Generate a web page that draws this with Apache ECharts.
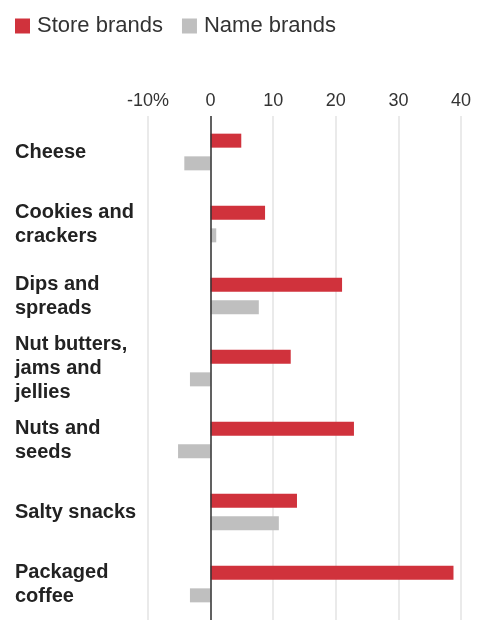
<!DOCTYPE html>
<html>
<head>
<meta charset="utf-8">
<script src="https://cdn.jsdelivr.net/npm/echarts@6/dist/echarts.min.js"></script>
<style>html,body{margin:0;padding:0;background:#fff;}#c{width:501px;height:629px;}</style>
</head>
<body>
<div id="c"></div>
<script>
const categories = ['Cheese', 'Cookies and\ncrackers', 'Dips and\nspreads', 'Nut butters,\njams and\njellies', 'Nuts and\nseeds', 'Salty snacks', 'Packaged\ncoffee'];
const storeBrands = [4.9, 8.7, 21.0, 12.8, 22.9, 13.8, 38.8];
const nameBrands = [-4.2, 0.9, 7.7, -3.3, -5.2, 10.9, -3.3];
const tickLabels = {'-10': '-10%', '0': '0', '10': '10', '20': '20', '30': '30', '40': '40'};

const chart = echarts.init(document.getElementById('c'));
chart.setOption({
  animation: false,
  legend: {
    left: 15, top: 15, padding: 0,
    itemWidth: 15, itemHeight: 15, itemGap: 19,
    icon: 'rect',
    textStyle: {fontFamily: 'Liberation Sans', fontSize: 22, color: '#333', padding: [0, 0, 0, 2]},
    data: ['Store brands', 'Name brands']
  },
  grid: {left: 148, right: 40, top: 116, bottom: 9, containLabel: false},
  xAxis: {
    type: 'value', position: 'top', min: -10, max: 40, interval: 10,
    axisLine: {show: false}, axisTick: {show: false},
    splitLine: {lineStyle: {color: '#e3e3e3', width: 1.5}},
    axisLabel: {
      margin: 6, fontFamily: 'Liberation Sans', fontSize: 18, color: '#333',
      formatter: v => tickLabels[String(v)]
    }
  },
  yAxis: {
    type: 'category', inverse: true, data: categories,
    axisLine: {show: false}, axisTick: {show: false},
    axisLabel: {
      align: 'left', margin: 133, fontFamily: 'Liberation Sans', fontWeight: 'bold',
      fontSize: 20, lineHeight: 24, color: '#222'
    }
  },
  series: [
    {
      name: 'Store brands', type: 'bar', data: storeBrands,
      barWidth: 14, barGap: '62%',
      itemStyle: {color: '#d0323c'},
      markLine: {
        silent: true, symbol: 'none', label: {show: false},
        lineStyle: {color: '#333', width: 1.5, type: 'solid'},
        data: [{xAxis: 0}]
      }
    },
    {
      name: 'Name brands', type: 'bar', data: nameBrands,
      barWidth: 14,
      itemStyle: {color: '#bfbfbf'}
    }
  ]
});
</script>
</body>
</html>
